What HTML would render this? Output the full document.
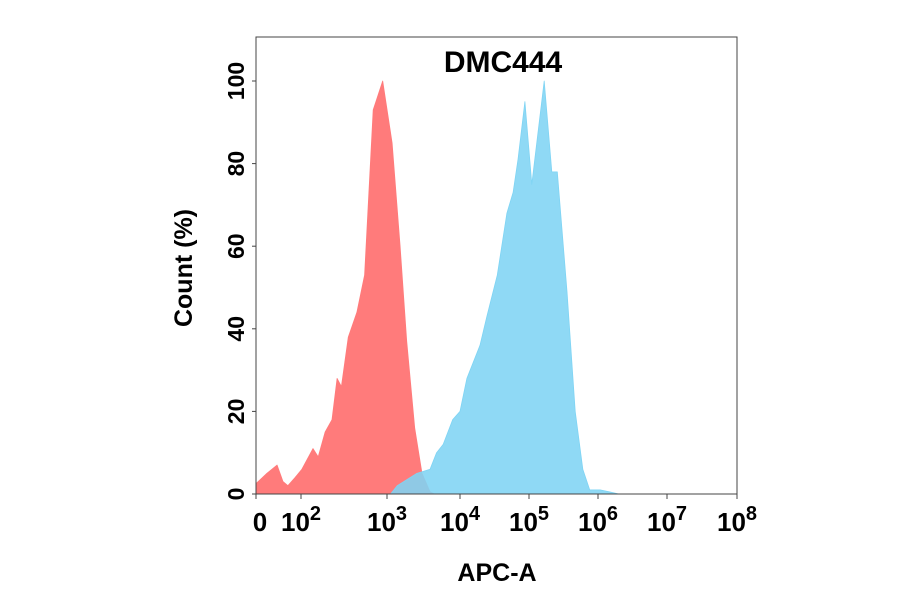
<!DOCTYPE html>
<html><head><meta charset="utf-8"><style>
body{margin:0;background:#fff;}
svg{display:block;font-family:"Liberation Sans",Arial,sans-serif;font-weight:bold;}
</style></head><body>
<svg id="chart" width="900" height="594" viewBox="0 0 900 594" xmlns="http://www.w3.org/2000/svg">
<text x="503" y="72" font-size="30" text-anchor="middle" fill="#000">DMC444</text>
<text transform="translate(192,268) rotate(-90)" font-size="25" text-anchor="middle" fill="#000">Count  (%)</text>
<text x="497" y="581" font-size="25" text-anchor="middle" fill="#000">APC-A</text>
<g id="marks"></g>
<rect x="256" y="37" width="481" height="457" fill="none" stroke="#444" stroke-width="1"/>
<g id="axes"></g>
</svg>
<script>
const decadeTicks=[1,2,3,4,5,6,7,8];
const decadeLabels=["0","2","3","4","5","6","7","8"];
const yTicks=[0,20,40,60,80,100];
const redX=[1,1.02,1.24,1.47,1.6,1.71,1.87,2.01,2.14,2.2,2.28,2.36,2.42,2.47,2.55,2.65,2.74,2.84,2.95,3.07,3.18,3.27,3.38,3.48,3.59,3.65];
const redY=[0,2.7,5,7,3,2,4,6,11,9,15,18,28,26,38,44,53,93,100,85,60,37,16,5,0.5,0];
const blueX=[3.05,3.14,3.41,3.59,3.68,3.77,3.9,4.0,4.1,4.29,4.39,4.54,4.68,4.77,4.84,4.94,5.04,5.22,5.33,5.41,5.55,5.67,5.78,5.88,6.03,6.17,6.3];
const blueY=[0,2,5,6,10,12,18,20,28,36,43,53,68,73,81,95,75,100,78,78,49,20,6,1,1,0.5,0];
const tickPx=[256,301,387,460,529,598,667,737];
const ns="http://www.w3.org/2000/svg";
function xs(d){
  if(d<=1)return tickPx[0];
  const i=Math.min(Math.floor(d)-1,6);const f=d-(i+1);
  return tickPx[i]+f*(tickPx[i+1]-tickPx[i]);
}
function ys(v){return 494-v*4.13;}
const marks=document.getElementById('marks');
function area(X,Y,fill,name,op){
  let d="M"+xs(X[0])+","+ys(0);
  for(let i=0;i<X.length;i++)d+=" L"+xs(X[i]).toFixed(1)+","+ys(Y[i]).toFixed(1);
  d+=" L"+xs(X[X.length-1])+","+ys(0)+"Z";
  const p=document.createElementNS(ns,'path');
  p.setAttribute('d',d);p.setAttribute('fill',fill);p.setAttribute('stroke',fill);p.setAttribute('stroke-width','0.8');p.setAttribute('stroke-linejoin','round');
  p.setAttribute('fill-opacity',op);
  
  
  marks.appendChild(p);
}
area(redX,redY,"#ff7b7b","red-histogram",1);
area(blueX,blueY,"#7fd4f4","blue-histogram",0.88);
const axes=document.getElementById('axes');
decadeTicks.forEach((t,i)=>{
  const x=xs(t);
  const l=document.createElementNS(ns,'line');
  l.setAttribute('x1',x);l.setAttribute('x2',x);l.setAttribute('y1',494);l.setAttribute('y2',499);l.setAttribute('stroke','#444');
  
  
  axes.appendChild(l);
  const tx=document.createElementNS(ns,'text');
  tx.setAttribute('y',531);tx.setAttribute('font-size','26');tx.setAttribute('fill','#000');
  if(i===0){tx.setAttribute('x',x+4);tx.setAttribute('text-anchor','middle');tx.textContent=decadeLabels[i];}
  else{tx.setAttribute('x',x-20);tx.innerHTML='10<tspan dy="-11" font-size="20">'+decadeLabels[i]+'</tspan>';}
  
  
  axes.appendChild(tx);
});
yTicks.forEach(v=>{
  const y=ys(v);
  const l=document.createElementNS(ns,'line');
  l.setAttribute('x1',252);l.setAttribute('x2',256);l.setAttribute('y1',y);l.setAttribute('y2',y);l.setAttribute('stroke','#444');
  
  
  axes.appendChild(l);
  const tx=document.createElementNS(ns,'text');
  tx.setAttribute('transform','translate(244,'+y+') rotate(-90)');
  tx.setAttribute('text-anchor','middle');tx.setAttribute('font-size','23');tx.setAttribute('fill','#000');
  tx.textContent=v;
  
  
  axes.appendChild(tx);
});
</script>
</body></html>
